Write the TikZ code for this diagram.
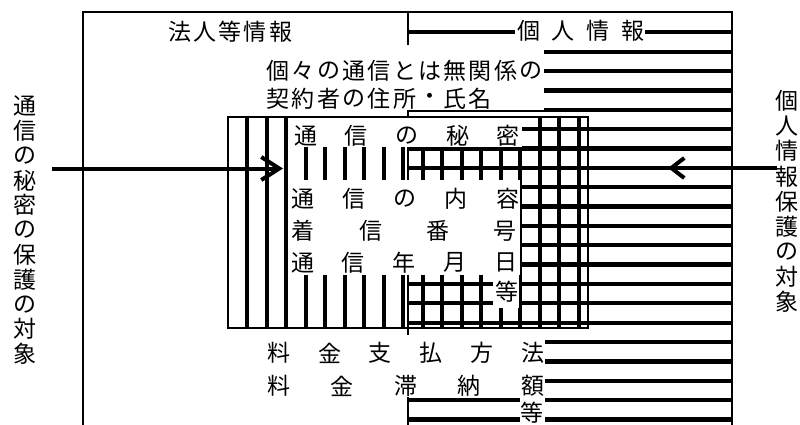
\documentclass[tikz,border=0pt]{standalone}
\usepackage{fontspec}
\newfontfamily\jp{Noto Sans CJK JP}
\usetikzlibrary{arrows.meta}
\newcommand\jrow[5]{%
  \foreach \ch [count=\i from 0] in {#5}{%
    \node[jt] (#1\i) at ({#2+\i*(#4)},#3) {\ch};}}
\newcommand\jcol[5]{%
  \foreach \ch [count=\i from 0] in {#5}{%
    \node[jt] (#1\i) at (#2,{#3+\i*(#4)}) {\ch};}}
\begin{document}
\begin{tikzpicture}[x=1pt,y=-1pt,
  jt/.style={inner sep=0pt,font=\jp\fontsize{23}{23}\selectfont},
  thinborder/.style={line width=1.3pt},
  stripe/.style={line width=4.3pt},
  mask/.style={fill=white,draw=none},
  bigarrow/.style={line width=4pt}]
\useasboundingbox (0,0) rectangle (800,425);
\fill[white] (0,0) rectangle (800,425);
\begin{scope}
\clip (0,0) rectangle (800,425);
% outer frame
\draw[thinborder] (83,12) rectangle (732,440);
% personal information stripes
\foreach \k in {0,...,20}
  \draw[stripe] (408,{32.3+19.36*\k}) -- (732,{32.3+19.36*\k});
% secrecy stripes
\foreach \j in {0,...,17}
  \draw[stripe] ({247.3+19.5*\j},117) -- ({247.3+19.5*\j},328);
\draw[thinborder] (408,12) rectangle (732,440);
\draw[thinborder] (228,117) rectangle (588,328);
% white masks behind texts
\fill[mask] (515,13.5) rectangle (645,45);
\fill[mask] (260,45) rectangle (543.5,110.5);
\fill[mask] (288.5,118) rectangle (522,146.5);
\fill[mask] (289,180) rectangle (520,275);
\fill[mask] (493,270) rectangle (519,308);
\fill[mask] (260,335) rectangle (544.5,397);
\fill[mask] (520,397) rectangle (545,430);
\end{scope}
% texts
\jrow{hj}{179.5}{32}{25.3}{法,人,等,情,報}
\jrow{kj}{528.5}{31}{34.7}{個,人,情,報}
\jrow{ka}{278}{71}{25.3}{個,々,の,通,信,と,は,無,関,係,の}
\jrow{kb}{278}{98.5}{25.3}{契,約,者,の,住,所,・,氏,名}
\jrow{ts}{305.5}{135.5}{50.7}{通,信,の,秘,密}
\jrow{tn}{302.5}{199}{51.25}{通,信,の,内,容}
\jrow{cb}{303.3}{231}{67.2}{着,信,番,号}
\jrow{tg}{302.5}{262.5}{50.8}{通,信,年,月,日}
\node[jt] (toa) at (506.5,291.5) {等};
\jrow{rs}{279}{353}{50.7}{料,金,支,払,方,法}
\jrow{rt}{279}{386}{63.4}{料,金,滞,納,額}
\node[jt] (tob) at (532,413) {等};
\jcol{lv}{25}{106}{24.8}{通,信,の,秘,密,の,保,護,の,対,象}
\jcol{rv}{787}{101}{25.1}{個,人,情,報,保,護,の,対,象}
% arrows
\coordinate (la) at (52,168.5);
\coordinate (lb) at (283,168.5);
\coordinate (ra) at (777,168);
\coordinate (rb) at (668,168);
\draw[bigarrow,-{Straight Barb[length=18pt,width=23pt]}] (la) -- (lb);
\draw[bigarrow,-{Straight Barb[length=13pt,width=20pt]}] (ra) -- (rb);
\end{tikzpicture}
\end{document}
